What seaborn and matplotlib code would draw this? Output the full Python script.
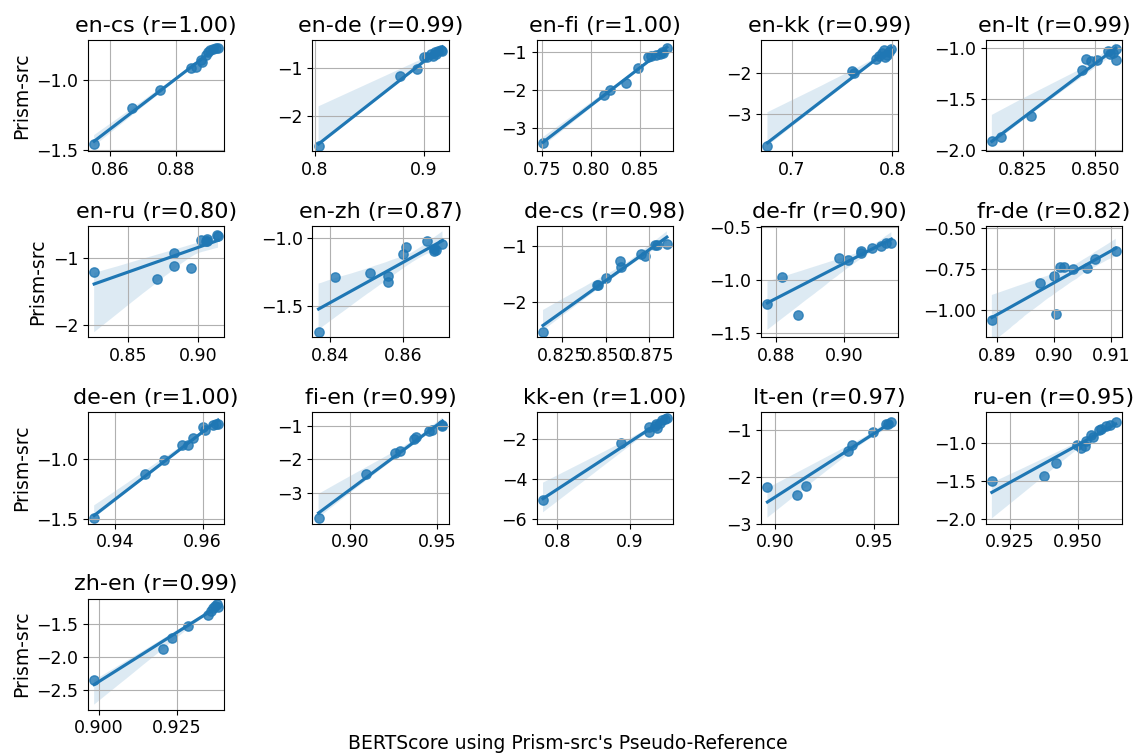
import numpy as np
import pandas as pd
import matplotlib
matplotlib.use("Agg")
import matplotlib.pyplot as plt
import seaborn as sns

# language pairs and pearson r shown in titles
pairs = ["en-cs", "en-de", "en-fi", "en-kk", "en-lt",
         "en-ru", "en-zh", "de-cs", "de-fr", "fr-de",
         "de-en", "fi-en", "kk-en", "lt-en", "ru-en",
         "zh-en"]
r_vals = [1.00, 0.99, 1.00, 0.99, 0.99,
          0.80, 0.87, 0.98, 0.90, 0.82,
          1.00, 0.99, 1.00, 0.97, 0.95,
          0.99]

# BERTScore (x) vs Prism-src (y)
en_cs_x = [0.8553, 0.8666, 0.875, 0.8843, 0.8859, 0.8873, 0.8878, 0.889, 0.8896, 0.890, 0.891, 0.8918, 0.8925]
en_cs_y = [-1.458, -1.198, -1.07, -0.912, -0.909, -0.853, -0.867, -0.82, -0.80, -0.786, -0.779, -0.772, -0.767]

en_de_x = [0.8036, 0.878, 0.8934, 0.900, 0.903, 0.9066, 0.910, 0.913, 0.916, 0.917, 0.908, 0.911]
en_de_y = [-2.64, -1.16, -1.02, -0.77, -0.78, -0.70, -0.67, -0.635, -0.62, -0.65, -0.76, -0.70]

en_fi_x = [0.751, 0.8132, 0.8196, 0.836, 0.848, 0.858, 0.861, 0.866, 0.870, 0.8725, 0.8775, 0.874]
en_fi_y = [-3.385, -2.12, -2.0, -1.81, -1.41, -1.14, -1.12, -1.08, -1.06, -1.0, -0.9, -1.02]

en_kk_x = [0.6757, 0.7596, 0.7618, 0.7839, 0.7864, 0.790, 0.792, 0.7946, 0.7964, 0.799, 0.7932]
en_kk_y = [-3.8, -1.94, -1.98, -1.64, -1.58, -1.5, -1.42, -1.54, -1.46, -1.40, -1.6]

en_lt_x = [0.8144, 0.8175, 0.8279, 0.8454, 0.8466, 0.8485, 0.8506, 0.8544, 0.855, 0.856, 0.857, 0.857]
en_lt_y = [-1.915, -1.867, -1.669, -1.218, -1.107, -1.126, -1.117, -1.03, -1.06, -1.05, -1.01, -1.12]

en_ru_x = [0.8255, 0.8708, 0.8826, 0.8826, 0.895, 0.9021, 0.9068, 0.907, 0.9138, 0.9146, 0.906]
en_ru_y = [-1.205, -1.31, -0.92, -1.117, -1.146, -0.727, -0.717, -0.74, -0.66, -0.67, -0.75]

en_zh_x = [0.8368, 0.8412, 0.8509, 0.8559, 0.8559, 0.8608, 0.860, 0.8665, 0.8683, 0.8685, 0.8688, 0.8707]
en_zh_y = [-1.688, -1.289, -1.254, -1.282, -1.324, -1.07, -1.117, -1.028, -1.10, -1.082, -1.09, -1.047]

de_cs_x = [0.8142, 0.8449, 0.8459, 0.850, 0.858, 0.859, 0.8703, 0.8726, 0.8782, 0.8794, 0.885]
de_cs_y = [-2.54, -1.70, -1.70, -1.578, -1.277, -1.38, -1.15, -1.19, -0.99, -0.99, -0.97]

de_fr_x = [0.8776, 0.8818, 0.8866, 0.8984, 0.901, 0.9049, 0.905, 0.9082, 0.9108, 0.9121, 0.9138]
de_fr_y = [-1.221, -0.97, -1.327, -0.79, -0.812, -0.727, -0.745, -0.697, -0.676, -0.645, -0.645]

fr_de_x = [0.8891, 0.8976, 0.8999, 0.9003, 0.901, 0.9017, 0.9033, 0.9057, 0.9071, 0.9108]
fr_de_y = [-1.06, -0.836, -0.79, -1.026, -0.734, -0.734, -0.75, -0.744, -0.686, -0.636]

de_en_x = [0.9353, 0.9468, 0.9513, 0.9552, 0.9566, 0.9578, 0.9601, 0.9605, 0.9623, 0.9631, 0.9635]
de_en_y = [-1.495, -1.126, -1.005, -0.884, -0.884, -0.824, -0.732, -0.758, -0.71, -0.705, -0.705]

fi_en_x = [0.8817, 0.909, 0.9256, 0.9285, 0.9369, 0.9379, 0.9454, 0.9469, 0.9527, 0.953]
fi_en_y = [-3.736, -2.434, -1.80, -1.736, -1.406, -1.33, -1.16, -1.14, -0.98, -1.02]

kk_en_x = [0.780, 0.8882, 0.9273, 0.9273, 0.9373, 0.9386, 0.9418, 0.9455, 0.9486, 0.9518, 0.935]
kk_en_y = [-5.06, -2.195, -1.38, -1.63, -1.27, -1.43, -1.19, -1.07, -0.99, -0.94, -1.35]

lt_en_x = [0.8962, 0.9109, 0.9158, 0.9367, 0.9389, 0.9495, 0.9558, 0.9567, 0.9585]
lt_en_y = [-2.228, -2.4, -2.207, -1.448, -1.324, -1.048, -0.876, -0.876, -0.84]

ru_en_x = [0.9183, 0.9376, 0.942, 0.9497, 0.951, 0.9527, 0.9529, 0.955, 0.9556, 0.9577, 0.9586, 0.9604, 0.962, 0.964]
ru_en_y = [-1.5, -1.438, -1.264, -1.03, -1.064, -1.043, -0.979, -0.894, -0.923, -0.838, -0.817, -0.774, -0.766, -0.723]

zh_en_x = [0.8985, 0.9206, 0.9235, 0.9287, 0.9351, 0.9359, 0.9366, 0.9372, 0.938, 0.9383]
zh_en_y = [-2.35, -1.88, -1.70, -1.52, -1.35, -1.29, -1.25, -1.215, -1.19, -1.23]

series = [
    (en_cs_x, en_cs_y), (en_de_x, en_de_y), (en_fi_x, en_fi_y), (en_kk_x, en_kk_y), (en_lt_x, en_lt_y),
    (en_ru_x, en_ru_y), (en_zh_x, en_zh_y), (de_cs_x, de_cs_y), (de_fr_x, de_fr_y), (fr_de_x, fr_de_y),
    (de_en_x, de_en_y), (fi_en_x, fi_en_y), (kk_en_x, kk_en_y), (lt_en_x, lt_en_y), (ru_en_x, ru_en_y),
    (zh_en_x, zh_en_y),
]

# bootstrap bands came out wider in the original, so pin a few y ranges
y_ranges = {
    "en-lt": (-2.01, -0.92),
    "de-fr": (-1.54, -0.49),
    "fr-de": (-1.166, -0.486),
    "kk-en": (-6.23, -0.67),
    "lt-en": (-3.0, -0.63),
}

plt.rcParams["font.family"] = ["DejaVu Sans"]
plt.rcParams["xtick.labelsize"] = 12.5
plt.rcParams["ytick.labelsize"] = 12.5
plt.rcParams["axes.labelsize"] = 13.5
plt.rcParams["axes.titlesize"] = 16

fig, axes = plt.subplots(4, 5, figsize=(11.35, 7.55), dpi=100)
fig.subplots_adjust(left=0.0775, right=0.9885, top=0.947, bottom=0.06,
                    wspace=0.647, hspace=0.676)

for i, ax in enumerate(axes.flat):
    if i >= len(pairs):
        ax.axis("off")
        continue
    xs, ys = series[i]
    df = pd.DataFrame({"bertscore": xs, "prism": ys})
    sns.regplot(data=df, x="bertscore", y="prism", ax=ax, seed=0,
                scatter_kws={"s": 45})
    ax.set_title(f"{pairs[i]} (r={r_vals[i]:.2f})")
    ax.grid(True)
    ax.set_xlabel("")
    ax.set_ylabel("Prism-src" if i % 5 == 0 else "")
    if pairs[i] in y_ranges:
        ax.set_ylim(*y_ranges[pairs[i]])

fig.text(0.5, 0.003, "BERTScore using Prism-src's Pseudo-Reference",
         ha="center", va="bottom", fontsize=13.5)

plt.savefig("out.png", dpi=100)
plt.close()
